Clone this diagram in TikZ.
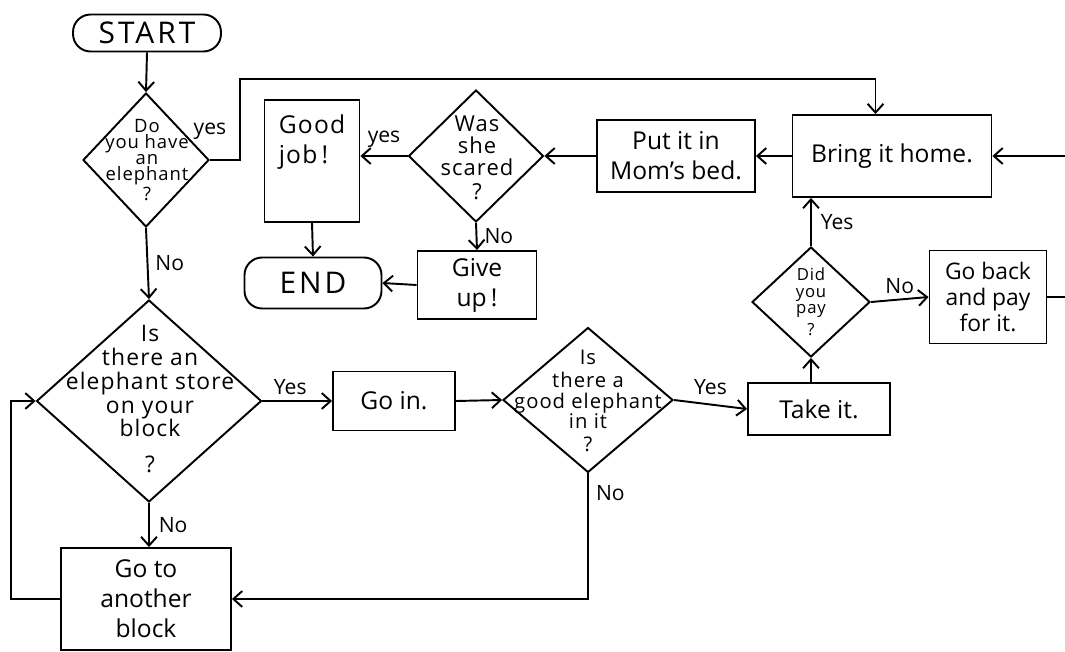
\documentclass[tikz,border=0pt]{standalone}
\usepackage{fontspec}
\setmainfont{Open Sans}
\usetikzlibrary{shapes.geometric, arrows.meta, positioning, calc}
\tikzset{
  box/.style={
    draw, line width=1.1pt, align=center, inner sep=2pt,
    font=\fontsize{14}{17}\selectfont,
  },
  termbox/.style={
    draw, line width=1.1pt, rounded corners=10pt, inner sep=2pt,
    font=\fontsize{17}{19}\selectfont\addfontfeature{LetterSpace=10},
  },
  decision/.style={
    draw, diamond, line width=1.1pt, inner sep=0pt,
  },
  dtext/.style={align=center, inner sep=0pt,
    font=\fontsize{#1}{#1}\selectfont\addfontfeature{LetterSpace=5}},
  dtext/.default=11,
  lbl/.style={font=\fontsize{12}{13}\selectfont, inner sep=1pt},
  arw/.style={-{Straight Barb[length=5pt, width=9pt]}, line width=1.1pt},
  flow/.style={line width=1.1pt},
}
\begin{document}
\begin{tikzpicture}[x=0.02cm, y=-0.02cm]
  \useasboundingbox (0,0) rectangle (1065,652);

  % Left column -- start and the two store questions
  \node[termbox, minimum width=2.96cm, minimum height=0.74cm] (start) at (147,33) {START};
  \node[decision, minimum width=2.52cm, minimum height=2.68cm] (qhave) at (146,160) {};
  \node[dtext=10.5] (qhavet) at (147,160)
    {Do\\[-1.5pt]you have\\[-1.5pt]an\\[-1.5pt]elephant\\[1pt]?};
  \node[decision, minimum width=4.5cm, minimum height=4.04cm] (qstore) at (149,401) {};
  \node[dtext=13] (qstoret) at (150,399)
    {Is\\[0.5pt]there an\\[0.5pt]elephant store\\[0.5pt]on your\\[0.5pt]block\\[7pt]?};
  \node[box, minimum width=3.4cm, minimum height=2.04cm] (another) at (146,599)
    {Go to\\another\\block};

  % Middle row -- going in and taking it
  \node[box, minimum width=2.44cm, minimum height=1.18cm] (goin) at (394,401) {Go in.};
  \node[decision, minimum width=3.4cm, minimum height=2.9cm] (qgood) at (588,400) {};
  \node[dtext=11.5] (qgoodt) at (588,401)
    {Is\\[2pt]there a\\good elephant\\in it\\[2pt]?};
  \node[box, minimum width=2.84cm, minimum height=1.04cm] (take) at (819,409) {Take it.};

  % Paying
  \node[decision, minimum width=2.36cm, minimum height=2.2cm] (qpay) at (811,302) {};
  \node[dtext=9.5] (qpayt) at (811,302) {Did\\you\\pay\\[3pt]?};
  \node[box, minimum width=2.34cm, minimum height=1.86cm,
    font=\fontsize{13}{15}\selectfont] (payback) at (988,297)
    {Go back\\and pay\\for it.};

  % Top row -- taking it home
  \node[box, minimum width=3.98cm, minimum height=1.64cm] (bring) at (892,156) {Bring it home.};
  \node[box, minimum width=3.16cm, minimum height=1.44cm] (putbed) at (676,156)
    {Put it in\\Mom's bed.};
  \node[decision, minimum width=2.7cm, minimum height=2.64cm] (qscared) at (476,156) {};
  \node[dtext=12.5] (qscaredt) at (477,158) {Was\\she\\scared\\[1pt]?};
  \node[box, minimum width=1.9cm, minimum height=2.44cm] (goodjob) at (312,161) {};
  \node[dtext=14, below=9pt of goodjob.north, align=left] (goodjobt) {Good\\[3pt]job\,!};
  \node[termbox, minimum width=2.74cm, minimum height=1.02cm] (endn) at (313,283) {END};
  \node[box, minimum width=2.38cm, minimum height=1.36cm] (giveup) at (477,285) {Give\\up\,!};

  % Picture edge
  \coordinate (edgeA) at (1068,297);
  \coordinate (edgeB) at (1068,156);

  % Connectors
  \draw[arw] (start.south) -- (qhave.north);
  \draw[arw] (qhave.east) node[lbl, above=10pt] {yes} -- ++(30,0)
    |- ([xshift=-0.33cm, yshift=0.7cm]bring.north) -- ([xshift=-0.33cm]bring.north);
  \draw[arw] (qhave.south) -- (qstore.north) node[lbl, midway, right=3pt] {No};
  \draw[arw] (qstore.east) -- (goin.west) node[lbl, pos=0.4, above=2pt] {Yes};
  \draw[arw] (qstore.south) -- (qstore.south |- another.north)
    node[lbl, midway, right=4pt] {No};
  \draw[arw] (another.west) -- ++(-49,0) |- (qstore.west);
  \draw[arw] (goin.east) -- (qgood.west);
  \draw[arw] (qgood.east) -- (take.west) node[lbl, midway, above=4pt] {Yes};
  \draw[arw] (qgood.south) |- (another.east) node[lbl, pos=0.08, right=3pt] {No};
  \draw[arw] (take.north -| qpay.south) -- (qpay.south);
  \draw[arw] (qpay.north) -- (qpay.north |- bring.south) node[lbl, midway, right=4pt] {Yes};
  \draw[arw] (qpay.east) -- (payback.west) node[lbl, midway, above=2pt] {No};
  \draw[flow] (payback.east) -- (edgeA);
  \draw[arw] (edgeB) -- (bring.east);
  \draw[arw] (bring.west) -- (putbed.east);
  \draw[arw] (putbed.west) -- (qscared.east);
  \draw[arw] (qscared.west) -- (goodjob.east |- qscared.west) node[lbl, midway, above=3pt] {yes};
  \draw[arw] (qscared.south) -- (giveup.north) node[lbl, midway, right=3pt] {No};
  \draw[arw] (goodjob.south) -- (endn.north);
  \draw[arw] (giveup.west) -- (endn.east);

\end{tikzpicture}
\end{document}
